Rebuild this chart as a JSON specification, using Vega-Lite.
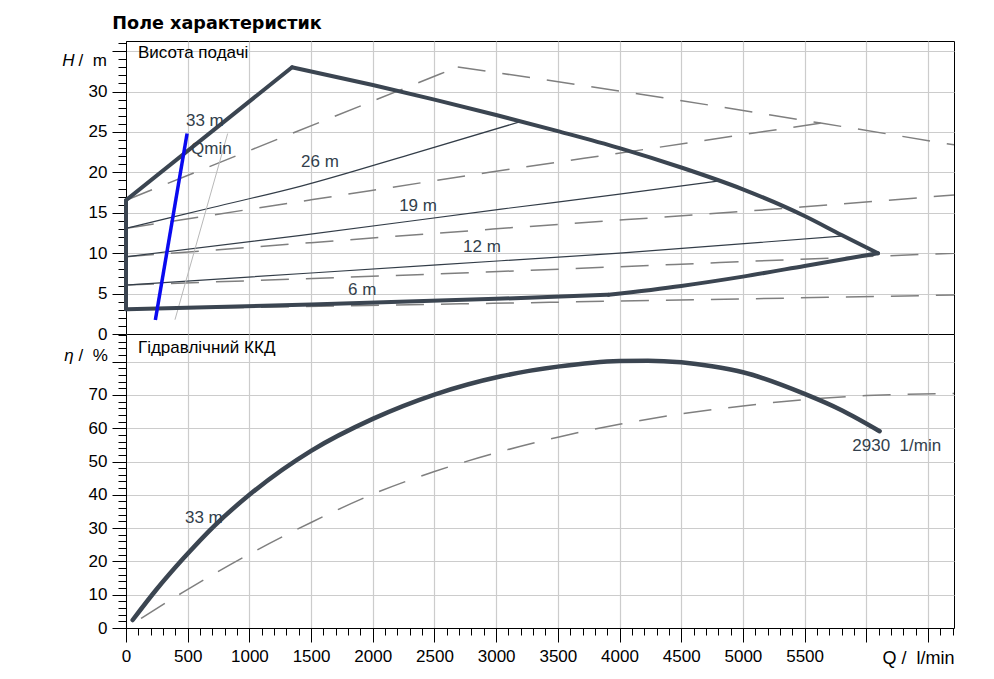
{
  "$schema": "https://vega.github.io/schema/vega-lite/v6.json",
  "padding": {"left": 61, "top": 14, "right": 30, "bottom": 5},
  "title": {"text": "Поле характеристик", "anchor": "start", "font": "DejaVu Sans", "fontSize": 17.6, "fontWeight": "bold", "color": "black", "offset": 8, "dx": 51},
  "datasets": {
    "head": [
      {"kind": "edge", "curve": "env left", "i": 0, "q": 0, "h": 3.05},
      {"kind": "edge", "curve": "env left", "i": 1, "q": 0, "h": 16.55},
      {"kind": "edge", "curve": "env left", "i": 2, "q": 1346, "h": 33.0},
      {"kind": "envelope", "curve": "env upper", "q": 1346, "h": 33.0},
      {"kind": "envelope", "curve": "env upper", "q": 2000, "h": 30.8},
      {"kind": "envelope", "curve": "env upper", "q": 2500, "h": 29.0},
      {"kind": "envelope", "curve": "env upper", "q": 3000, "h": 27.1},
      {"kind": "envelope", "curve": "env upper", "q": 3500, "h": 25.1},
      {"kind": "envelope", "curve": "env upper", "q": 4000, "h": 23.0},
      {"kind": "envelope", "curve": "env upper", "q": 4500, "h": 20.6},
      {"kind": "envelope", "curve": "env upper", "q": 5000, "h": 17.9},
      {"kind": "envelope", "curve": "env upper", "q": 5500, "h": 14.6},
      {"kind": "envelope", "curve": "env upper", "q": 5800, "h": 12.25},
      {"kind": "envelope", "curve": "env upper", "q": 6095, "h": 10.0},
      {"kind": "envelope", "curve": "env lower right", "q": 3910, "h": 4.85},
      {"kind": "envelope", "curve": "env lower right", "q": 4500, "h": 5.95},
      {"kind": "envelope", "curve": "env lower right", "q": 5000, "h": 7.1},
      {"kind": "envelope", "curve": "env lower right", "q": 5500, "h": 8.42},
      {"kind": "envelope", "curve": "env lower right", "q": 6095, "h": 10.0},
      {"kind": "envelope", "curve": "env lower left", "q": 0, "h": 3.05},
      {"kind": "envelope", "curve": "env lower left", "q": 1500, "h": 3.65},
      {"kind": "envelope", "curve": "env lower left", "q": 3000, "h": 4.35},
      {"kind": "envelope", "curve": "env lower left", "q": 3910, "h": 4.85},
      {"kind": "speed", "curve": "26 m", "q": 0, "h": 13.07},
      {"kind": "speed", "curve": "26 m", "q": 700, "h": 15.65},
      {"kind": "speed", "curve": "26 m", "q": 1419, "h": 18.3},
      {"kind": "speed", "curve": "26 m", "q": 2300, "h": 22.2},
      {"kind": "speed", "curve": "26 m", "q": 3203, "h": 26.3},
      {"kind": "speed", "curve": "19 m", "q": 0, "h": 9.56},
      {"kind": "speed", "curve": "19 m", "q": 1419, "h": 12.2},
      {"kind": "speed", "curve": "19 m", "q": 3041, "h": 15.45},
      {"kind": "speed", "curve": "19 m", "q": 4000, "h": 17.3},
      {"kind": "speed", "curve": "19 m", "q": 4811, "h": 18.95},
      {"kind": "speed", "curve": "12 m", "q": 0, "h": 6.06},
      {"kind": "speed", "curve": "12 m", "q": 1500, "h": 7.55},
      {"kind": "speed", "curve": "12 m", "q": 3041, "h": 9.06},
      {"kind": "speed", "curve": "12 m", "q": 4000, "h": 10.0},
      {"kind": "speed", "curve": "12 m", "q": 5798, "h": 12.1},
      {"kind": "alt", "curve": "alt top rise", "q": 0, "h": 16.55},
      {"kind": "alt", "curve": "alt top rise", "q": 1311, "h": 24.6},
      {"kind": "alt", "curve": "alt top rise", "q": 2689, "h": 33.04},
      {"kind": "alt", "curve": "alt top fall", "q": 2689, "h": 33.04},
      {"kind": "alt", "curve": "alt top fall", "q": 4068, "h": 29.9},
      {"kind": "alt", "curve": "alt top fall", "q": 5630, "h": 26.1},
      {"kind": "alt", "curve": "alt top fall", "q": 6711, "h": 23.4},
      {"kind": "alt", "curve": "alt 26", "q": 0, "h": 13.07},
      {"kind": "alt", "curve": "alt 26", "q": 1500, "h": 16.6},
      {"kind": "alt", "curve": "alt 26", "q": 2946, "h": 20.0},
      {"kind": "alt", "curve": "alt 26", "q": 4230, "h": 22.9},
      {"kind": "alt", "curve": "alt 26", "q": 5630, "h": 26.1},
      {"kind": "alt", "curve": "alt 19", "q": 0, "h": 9.56},
      {"kind": "alt", "curve": "alt 19", "q": 1500, "h": 11.3},
      {"kind": "alt", "curve": "alt 19", "q": 2973, "h": 12.98},
      {"kind": "alt", "curve": "alt 19", "q": 5473, "h": 15.7},
      {"kind": "alt", "curve": "alt 19", "q": 6711, "h": 17.2},
      {"kind": "alt", "curve": "alt 12", "q": 0, "h": 6.06},
      {"kind": "alt", "curve": "alt 12", "q": 2973, "h": 7.7},
      {"kind": "alt", "curve": "alt 12", "q": 5473, "h": 9.25},
      {"kind": "alt", "curve": "alt 12", "q": 6711, "h": 10.0},
      {"kind": "alt", "curve": "alt 6", "q": 0, "h": 3.05},
      {"kind": "alt", "curve": "alt 6", "q": 2973, "h": 3.8},
      {"kind": "alt", "curve": "alt 6", "q": 6711, "h": 4.82},
      {"kind": "qmin", "curve": "Qmin", "q": 238, "h": 1.73},
      {"kind": "qmin", "curve": "Qmin", "q": 495, "h": 24.8},
      {"kind": "qmin alt", "curve": "Qmin alt", "q": 397, "h": 1.77},
      {"kind": "qmin alt", "curve": "Qmin alt", "q": 824, "h": 24.8}
    ],
    "eff": [
      {"kind": "main", "q": 54, "eta": 2.4},
      {"kind": "main", "q": 250, "eta": 11.7},
      {"kind": "main", "q": 460, "eta": 20.7},
      {"kind": "main", "q": 716, "eta": 30.7},
      {"kind": "main", "q": 1000, "eta": 40.0},
      {"kind": "main", "q": 1500, "eta": 53.2},
      {"kind": "main", "q": 2000, "eta": 62.8},
      {"kind": "main", "q": 2500, "eta": 70.1},
      {"kind": "main", "q": 3041, "eta": 75.6},
      {"kind": "main", "q": 3500, "eta": 78.5},
      {"kind": "main", "q": 4000, "eta": 80.2},
      {"kind": "main", "q": 4230, "eta": 80.3},
      {"kind": "main", "q": 4500, "eta": 79.8},
      {"kind": "main", "q": 4750, "eta": 78.6},
      {"kind": "main", "q": 5000, "eta": 76.8},
      {"kind": "main", "q": 5500, "eta": 70.3},
      {"kind": "main", "q": 5800, "eta": 65.4},
      {"kind": "main", "q": 6108, "eta": 59.1},
      {"kind": "alt", "q": 122, "eta": 2.9},
      {"kind": "alt", "q": 460, "eta": 10.7},
      {"kind": "alt", "q": 1000, "eta": 22.2},
      {"kind": "alt", "q": 1500, "eta": 31.7},
      {"kind": "alt", "q": 2000, "eta": 40.2},
      {"kind": "alt", "q": 2500, "eta": 47.0},
      {"kind": "alt", "q": 3000, "eta": 52.6},
      {"kind": "alt", "q": 3500, "eta": 57.3},
      {"kind": "alt", "q": 4000, "eta": 61.2},
      {"kind": "alt", "q": 4500, "eta": 64.3},
      {"kind": "alt", "q": 5000, "eta": 66.7},
      {"kind": "alt", "q": 5500, "eta": 68.6},
      {"kind": "alt", "q": 6000, "eta": 69.8},
      {"kind": "alt", "q": 6711, "eta": 70.4}
    ],
    "headLabels": [
      {"role": "panel", "text": "Висота подачі", "q": 97, "h": 34.75},
      {"role": "curve", "text": "33 m", "q": 486, "h": 26.3},
      {"role": "curve", "text": "Qmin", "q": 527, "h": 22.9},
      {"role": "curve", "text": "26 m", "q": 1419, "h": 21.3},
      {"role": "curve", "text": "19 m", "q": 2214, "h": 15.8},
      {"role": "curve", "text": "12 m", "q": 2732, "h": 10.75},
      {"role": "curve", "text": "6 m", "q": 1800, "h": 5.44}
    ],
    "effLabels": [
      {"role": "panel", "text": "Гідравлічний ККД", "q": 97, "eta": 84.0},
      {"role": "curve", "text": "33 m", "q": 478, "eta": 33.0},
      {"role": "curve", "text": "2930\u00a0 1/min", "q": 5887, "eta": 54.7}
    ]
  },
  "spacing": 0,
  "bounds": "flush",
  "vconcat": [
    {
      "width": 828,
      "height": 293,
      "resolve": {"axis": {"x": "independent", "y": "independent"}},
      "layer": [
        {
          "data": {"name": "head"},
          "transform": [{"filter": {"field": "kind", "equal": "alt"}}],
          "mark": {"type": "line", "color": "#7f7f7f", "strokeWidth": 1.5, "strokeDash": [28, 17], "interpolate": "monotone"},
          "encoding": {
            "x": {"field": "q", "type": "quantitative", "scale": {"domain": [0, 6711], "nice": false},
              "axis": {"orient": "bottom", "values": [500, 1000, 1500, 2000, 2500, 3000, 3500, 4000, 4500, 5000, 5500, 6000, 6500], "labels": false, "ticks": false, "domain": false, "grid": true, "title": null}},
            "y": {"field": "h", "type": "quantitative", "scale": {"domain": [0, 36.25], "nice": false},
              "axis": {"orient": "left", "values": [0, 5, 10, 15, 20, 25, 30, 35], "labelExpr": "datum.value <= 30 ? datum.label : ''", "labelFlush": false, "tickSize": 14, "labelPadding": 5, "grid": true, "domain": true,
                "title": "H", "titleFontStyle": "italic", "titleAngle": 0, "titleX": -58, "titleY": 19.5, "titleAlign": "center", "titleBaseline": "middle"}},
            "detail": {"field": "curve"}
          }
        },
        {
          "data": {"name": "head"},
          "transform": [{"filter": {"field": "kind", "equal": "speed"}}],
          "mark": {"type": "line", "color": "#333d48", "strokeWidth": 1.2, "interpolate": "monotone"},
          "encoding": {
            "x": {"field": "q", "type": "quantitative", "axis": null},
            "y": {"field": "h", "type": "quantitative",
              "axis": {"orient": "left", "values": [0, 1, 2, 3, 4, 5, 6, 7, 8, 9, 10, 11, 12, 13, 14, 15, 16, 17, 18, 19, 20, 21, 22, 23, 24, 25, 26, 27, 28, 29, 30, 31, 32, 33, 34, 35, 36], "labels": false, "tickSize": 8, "grid": false, "domain": false,
                "title": "/\u00a0\u00a0m", "titleAngle": 0, "titleX": -48, "titleY": 19.5, "titleAlign": "left", "titleBaseline": "middle"}},
            "detail": {"field": "curve"}
          }
        },
        {
          "data": {"name": "head"},
          "transform": [{"filter": {"field": "kind", "equal": "qmin alt"}}],
          "mark": {"type": "line", "color": "#b8b8b8", "strokeWidth": 1},
          "encoding": {
            "x": {"field": "q", "type": "quantitative", "axis": null},
            "y": {"field": "h", "type": "quantitative", "axis": null}
          }
        },
        {
          "data": {"name": "head"},
          "transform": [{"filter": {"field": "kind", "equal": "edge"}}],
          "mark": {"type": "line", "color": "#3b4551", "strokeWidth": 4, "strokeJoin": "miter", "strokeCap": "round"},
          "encoding": {
            "x": {"field": "q", "type": "quantitative", "axis": null},
            "y": {"field": "h", "type": "quantitative", "axis": null},
            "order": {"field": "i"}
          }
        },
        {
          "data": {"name": "head"},
          "transform": [{"filter": {"field": "kind", "equal": "envelope"}}],
          "mark": {"type": "line", "color": "#3b4551", "strokeWidth": 4, "strokeCap": "round", "interpolate": "monotone"},
          "encoding": {
            "x": {"field": "q", "type": "quantitative", "axis": null},
            "y": {"field": "h", "type": "quantitative", "axis": null},
            "detail": {"field": "curve"}
          }
        },
        {
          "data": {"name": "head"},
          "transform": [{"filter": {"field": "kind", "equal": "qmin"}}],
          "mark": {"type": "line", "color": "#0a0af0", "strokeWidth": 3.5},
          "encoding": {
            "x": {"field": "q", "type": "quantitative", "axis": null},
            "y": {"field": "h", "type": "quantitative", "axis": null}
          }
        },
        {
          "data": {"name": "headLabels"},
          "transform": [{"filter": {"field": "role", "equal": "curve"}}],
          "mark": {"type": "text", "align": "left", "baseline": "middle", "color": "#333f4c", "fontSize": 17},
          "encoding": {
            "x": {"field": "q", "type": "quantitative", "axis": null},
            "y": {"field": "h", "type": "quantitative", "axis": null},
            "text": {"field": "text"}
          }
        },
        {
          "data": {"name": "headLabels"},
          "transform": [{"filter": {"field": "role", "equal": "panel"}}],
          "mark": {"type": "text", "align": "left", "baseline": "middle", "color": "black", "fontSize": 17},
          "encoding": {
            "x": {"field": "q", "type": "quantitative", "axis": null},
            "y": {"field": "h", "type": "quantitative", "axis": null},
            "text": {"field": "text"}
          }
        }
      ]
    },
    {
      "width": 828,
      "height": 294,
      "resolve": {"axis": {"x": "independent", "y": "independent"}},
      "layer": [
        {
          "data": {"name": "eff"},
          "transform": [{"filter": {"field": "kind", "equal": "alt"}}],
          "mark": {"type": "line", "color": "#7f7f7f", "strokeWidth": 1.5, "strokeDash": [28, 17], "interpolate": "monotone"},
          "encoding": {
            "x": {"field": "q", "type": "quantitative", "scale": {"domain": [0, 6711], "nice": false},
              "axis": {"orient": "bottom", "values": [0, 500, 1000, 1500, 2000, 2500, 3000, 3500, 4000, 4500, 5000, 5500, 6000, 6500], "format": "d", "labelExpr": "datum.value <= 5500 ? datum.label : ''", "labelFlush": false, "tickSize": 14, "labelPadding": 6, "grid": true, "domain": true,
                "title": "Q /\u00a0 l/min", "titleFontSize": 18, "titleAngle": 0, "titleX": 828, "titleY": 30, "titleAlign": "right", "titleBaseline": "middle"}},
            "y": {"field": "eta", "type": "quantitative", "scale": {"domain": [0, 88.3], "nice": false},
              "axis": {"orient": "left", "values": [0, 10, 20, 30, 40, 50, 60, 70, 80], "labelExpr": "datum.value <= 70 ? datum.label : ''", "labelFlush": false, "tickSize": 14, "labelPadding": 5, "grid": true, "domain": true,
                "title": "η", "titleFontStyle": "italic", "titleAngle": 0, "titleX": -57.5, "titleY": 21, "titleAlign": "center", "titleBaseline": "middle"}}
          }
        },
        {
          "data": {"name": "eff"},
          "transform": [{"filter": {"field": "kind", "equal": "main"}}],
          "mark": {"type": "line", "color": "#3b4551", "strokeWidth": 4.5, "strokeCap": "round", "interpolate": "monotone"},
          "encoding": {
            "x": {"field": "q", "type": "quantitative",
              "axis": {"orient": "bottom", "values": [0, 100, 200, 300, 400, 500, 600, 700, 800, 900, 1000, 1100, 1200, 1300, 1400, 1500, 1600, 1700, 1800, 1900, 2000, 2100, 2200, 2300, 2400, 2500, 2600, 2700, 2800, 2900, 3000, 3100, 3200, 3300, 3400, 3500, 3600, 3700, 3800, 3900, 4000, 4100, 4200, 4300, 4400, 4500, 4600, 4700, 4800, 4900, 5000, 5100, 5200, 5300, 5400, 5500, 5600, 5700, 5800, 5900, 6000, 6100, 6200, 6300, 6400, 6500, 6600, 6700], "labels": false, "tickSize": 7, "grid": false, "domain": false, "title": null}},
            "y": {"field": "eta", "type": "quantitative",
              "axis": {"orient": "left", "values": [0, 2, 4, 6, 8, 10, 12, 14, 16, 18, 20, 22, 24, 26, 28, 30, 32, 34, 36, 38, 40, 42, 44, 46, 48, 50, 52, 54, 56, 58, 60, 62, 64, 66, 68, 70, 72, 74, 76, 78, 80, 82, 84, 86, 88], "labels": false, "tickSize": 8, "grid": false, "domain": false,
                "title": "/\u00a0\u00a0%", "titleAngle": 0, "titleX": -48, "titleY": 21, "titleAlign": "left", "titleBaseline": "middle"}}
          }
        },
        {
          "data": {"name": "effLabels"},
          "transform": [{"filter": {"field": "role", "equal": "curve"}}],
          "mark": {"type": "text", "align": "left", "baseline": "middle", "color": "#333f4c", "fontSize": 17},
          "encoding": {
            "x": {"field": "q", "type": "quantitative", "axis": null},
            "y": {"field": "eta", "type": "quantitative", "axis": null},
            "text": {"field": "text"}
          }
        },
        {
          "data": {"name": "effLabels"},
          "transform": [{"filter": {"field": "role", "equal": "panel"}}],
          "mark": {"type": "text", "align": "left", "baseline": "middle", "color": "black", "fontSize": 17},
          "encoding": {
            "x": {"field": "q", "type": "quantitative", "axis": null},
            "y": {"field": "eta", "type": "quantitative", "axis": null},
            "text": {"field": "text"}
          }
        }
      ]
    }
  ],
  "config": {
    "font": "Liberation Sans",
    "view": {"stroke": "black", "strokeWidth": 1},
    "axis": {
      "labelFont": "Liberation Sans", "labelFontSize": 17, "labelColor": "black", "labelFlush": false,
      "titleFont": "Liberation Sans", "titleFontSize": 17, "titleFontWeight": "normal", "titleColor": "black",
      "tickColor": "black", "tickWidth": 1, "gridColor": "#cccccc", "gridWidth": 1.2, "domainColor": "black"
    },
    "text": {"font": "Liberation Sans", "fontSize": 17}
  }
}
